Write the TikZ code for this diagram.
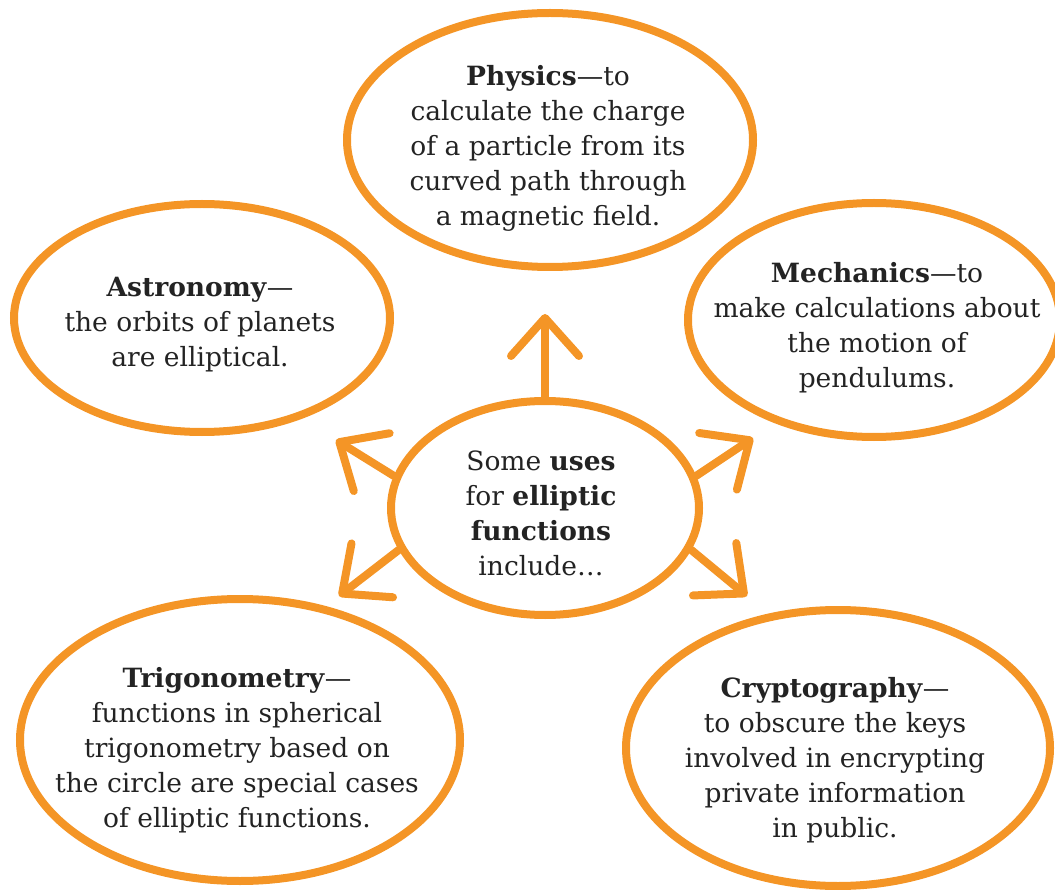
\documentclass[tikz,border=0pt]{standalone}
\usepackage{fontspec}
\setmainfont{DejaVu Serif}
\usetikzlibrary{shapes.geometric,arrows.meta}
\definecolor{ellorange}{RGB}{244,149,38}
\definecolor{inktext}{RGB}{35,35,35}

\begin{document}
\begin{tikzpicture}[x=1pt,y=-1pt,
  bubble/.style={ellipse,draw=ellorange,line width=8pt,inner sep=0pt},
  blurb/.style={align=center,inner sep=0pt,text=inktext,
    font=\fontsize{26.5}{35}\selectfont},
  usearrow/.style={draw=ellorange,line width=8pt,line cap=round,
    -{Straight Barb[length=38pt,width=68pt,round]}}]
\useasboundingbox (0,0) rectangle (1055,890);
% the five fields around the hub
\node[bubble,minimum width=406pt,minimum height=254pt] (physics) at (550,140) {};
\node[blurb] (physicsText) at (548,148)
  {\textbf{Physics}---to\\calculate the charge\\of a particle from its\\curved path through\\a magnetic field.};
\node[bubble,minimum width=376pt,minimum height=228pt] (astronomy) at (202,318) {};
\node[blurb] (astronomyText) at (200,325)
  {\textbf{Astronomy}---\\the orbits of planets\\are elliptical.};
\node[bubble,minimum width=372pt,minimum height=234pt] (mechanics) at (874,320) {};
\node[blurb] (mechanicsText) at (877,328)
  {\textbf{Mechanics}---to\\make calculations about\\the motion of\\pendulums.};
\node[bubble,minimum width=440pt,minimum height=282pt] (trig) at (240,740) {};
\node[blurb] (trigText) at (237,750)
  {\textbf{Trigonometry}---\\functions in spherical\\trigonometry based on\\the circle are special cases\\of elliptic functions.};
\node[bubble,minimum width=424pt,minimum height=276pt] (crypto) at (838,748) {};
\node[blurb] (cryptoText) at (835,760)
  {\textbf{Cryptography}---\\to obscure the keys\\involved in encrypting\\private information\\in public.};
% hub
\node[bubble,minimum width=308pt,minimum height=214pt] (hub) at (545,508) {};
\node[blurb] (hubText) at (541,513)
  {Some \textbf{uses}\\for \textbf{elliptic}\\\textbf{functions}\\include\ldots};
% arrows
\coordinate (tipUp) at (545,314);
\coordinate (tipUL) at (336,440);
\coordinate (tipUR) at (753,438);
\coordinate (tipLL) at (339,596);
\coordinate (tipLR) at (747,596);
\draw[usearrow] (hub.north) -- (tipUp);
\draw[usearrow] (hub.168) -- (tipUL);
\draw[usearrow] (hub.12) -- (tipUR);
\draw[usearrow] (hub.196) -- (tipLL);
\draw[usearrow] (hub.344) -- (tipLR);
\end{tikzpicture}
\end{document}
